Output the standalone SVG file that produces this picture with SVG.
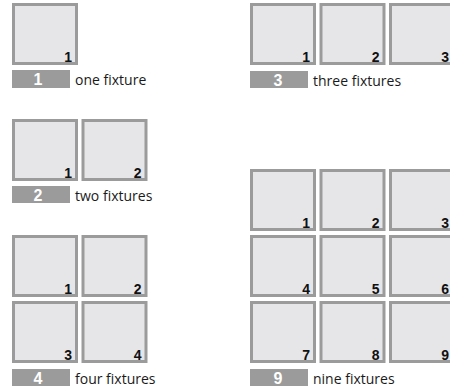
<svg xmlns="http://www.w3.org/2000/svg" width="450" height="392" viewBox="0 0 450 392">
<style>
.b{fill:#e6e6e8;stroke:#9b9b9b;stroke-width:3}
.n{font-family:"Liberation Sans",Arial,sans-serif;font-weight:bold;font-size:14px;fill:#111;text-anchor:end}
.bar{fill:#9b9b9b}
.bn{font-family:"Liberation Sans",Arial,sans-serif;font-weight:bold;font-size:16px;fill:#fff;text-anchor:middle}
.t{font-family:"Open Sans","Noto Sans",sans-serif;font-size:14px;fill:#1a1a1a}
</style>
<rect width="450" height="392" fill="#fff"/>
<g id="p1">
<rect class="b" x="13.5" y="4.5" width="63" height="59"/><text class="n" x="72" y="62">1</text>
<rect class="bar" x="12" y="70" width="58" height="18"/><text class="bn" x="38" y="85">1</text>
<text class="t" x="75" y="85">one fixture</text>
</g>
<g id="p2">
<rect class="b" x="13.5" y="120.5" width="63" height="59"/><text class="n" x="72" y="178">1</text>
<rect class="b" x="83" y="120.5" width="63" height="59"/><text class="n" x="141.5" y="178">2</text>
<rect class="bar" x="12" y="186" width="58" height="17"/><text class="bn" x="38" y="200.5">2</text>
<text class="t" x="75" y="200.5">two fixtures</text>
</g>
<g id="p4">
<rect class="b" x="13.5" y="236.5" width="63" height="59"/><text class="n" x="72" y="294">1</text>
<rect class="b" x="83" y="236.5" width="63" height="59"/><text class="n" x="141.5" y="294">2</text>
<rect class="b" x="13.5" y="302.5" width="63" height="59"/><text class="n" x="72" y="360">3</text>
<rect class="b" x="83" y="302.5" width="63" height="59"/><text class="n" x="141.5" y="360">4</text>
<rect class="bar" x="12" y="369" width="58" height="17"/><text class="bn" x="38" y="383.5">4</text>
<text class="t" x="75" y="383.5">four fixtures</text>
</g>
<g id="p3">
<rect class="b" x="251.5" y="4.5" width="63" height="59"/><text class="n" x="310" y="62">1</text>
<rect class="b" x="321" y="4.5" width="63" height="59"/><text class="n" x="379.5" y="62">2</text>
<rect class="b" x="390.5" y="4.5" width="63" height="59"/><text class="n" x="449" y="62">3</text>
<rect class="bar" x="250" y="71" width="58" height="17"/><text class="bn" x="278" y="85.5">3</text>
<text class="t" x="313" y="85.5">three fixtures</text>
</g>
<g id="p9">
<rect class="b" x="251.5" y="170.5" width="63" height="59"/><text class="n" x="310" y="228">1</text>
<rect class="b" x="321" y="170.5" width="63" height="59"/><text class="n" x="379.5" y="228">2</text>
<rect class="b" x="390.5" y="170.5" width="63" height="59"/><text class="n" x="449" y="228">3</text>
<rect class="b" x="251.5" y="236.5" width="63" height="59"/><text class="n" x="310" y="294">4</text>
<rect class="b" x="321" y="236.5" width="63" height="59"/><text class="n" x="379.5" y="294">5</text>
<rect class="b" x="390.5" y="236.5" width="63" height="59"/><text class="n" x="449" y="294">6</text>
<rect class="b" x="251.5" y="302.5" width="63" height="59"/><text class="n" x="310" y="360">7</text>
<rect class="b" x="321" y="302.5" width="63" height="59"/><text class="n" x="379.5" y="360">8</text>
<rect class="b" x="390.5" y="302.5" width="63" height="59"/><text class="n" x="449" y="360">9</text>
<rect class="bar" x="250" y="369" width="58" height="17"/><text class="bn" x="278" y="383.5">9</text>
<text class="t" x="313" y="383.5">nine fixtures</text>
</g>
<g id="connectors"/>
</svg>
